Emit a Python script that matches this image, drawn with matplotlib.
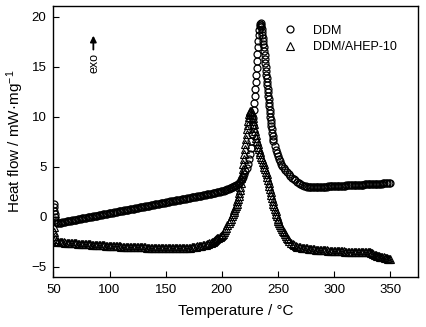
import matplotlib
matplotlib.use("Agg")
import matplotlib.pyplot as plt

plt.rcParams['font.family'] = ['Liberation Sans', 'DejaVu Sans']
plt.rcParams['mathtext.default'] = 'regular'

# DDM (circles): temperature / heat flow
ddm_t = [50.5, 50.7, 50.9, 51.1, 51.3, 51.6, 52.0,
         53, 54.25, 55.5, 56.75, 58, 59.25, 60.5, 61.75, 63, 64.25, 65.5,
         66.75, 68, 69.25, 70.5, 71.75, 73, 74.25, 75.5, 76.75, 78, 79.25,
         80.5, 81.75, 83, 84.25, 85.5, 86.75, 88, 89.25, 90.5, 91.75, 93,
         94.25, 95.5, 96.75, 98, 99.25, 100.5, 101.75, 103, 104.25, 105.5,
         106.75, 108, 109.25, 110.5, 111.75, 113, 114.25, 115.5, 116.75, 118,
         119.25, 120.5, 121.75, 123, 124.25, 125.5, 126.75, 128, 129.25, 130.5,
         131.75, 133, 134.25, 135.5, 136.75, 138, 139.25, 140.5, 141.75, 143,
         144.25, 145.5, 146.75, 148, 149.25, 150.5, 151.75, 153, 154.25, 155.5,
         156.75, 158, 159.25, 160.5, 161.75, 163, 164.25, 165.5, 166.75, 168,
         169.25, 170.5, 171.75, 173, 174.25, 175.5, 176.75, 178, 179.25, 180.5,
         181.75, 183, 184.25, 185.5, 186.75, 188, 189.25, 190.5, 191.75, 193,
         194.25, 195.5, 196.75, 198, 199.25, 200.5, 201.75, 203,
         204, 205, 206, 207, 208, 209, 210, 211, 212, 213, 214, 215, 216, 217,
         218, 219, 220, 221, 222, 223, 224, 224.8, 225.6, 226.4, 227, 227.6,
         228.1, 228.5, 228.9, 229.3, 229.7, 230.1, 230.5, 230.9, 231.3, 231.7,
         232.1, 232.5, 232.9, 233.3, 233.7, 234.1, 234.5, 234.9, 235.3, 235.6,
         235.9, 236.2, 236.5, 236.8, 237.1, 237.4, 237.7, 238.0, 238.3, 238.6,
         238.9, 239.2, 239.5, 239.8, 240.1, 240.4, 240.7, 241.0, 241.3, 241.6,
         241.9, 242.2, 242.5, 242.8, 243.1, 243.4, 243.7, 244.0, 244.4, 244.8,
         245.2, 245.6, 246, 247, 248, 249, 250, 251, 252, 253, 254, 255, 256.5,
         258, 259.5, 261, 262.5, 264, 265.5, 267, 268.5, 270, 271.5, 273,
         274.5, 276, 277.25, 278.5, 279.75, 281, 282.25, 283.5, 284.75, 286,
         287.25, 288.5, 289.75, 291, 292.25, 293.5, 294.75, 296, 297.25, 298.5,
         299.75, 301, 302.25, 303.5, 304.75, 306, 307.25, 308.5, 309.75, 311,
         312.25, 313.5, 314.75, 316, 317.25, 318.5, 319.75, 321, 322.25, 323.5,
         324.75, 326, 327.25, 328.5, 329.75, 331, 332.25, 333.5, 334.75, 336,
         337.25, 338.5, 339.75, 341, 342.25, 343.5, 344.75, 346, 347.25, 348.5,
         349.75]
ddm_hf = [1.3, 0.95, 0.6, 0.25, -0.05, -0.3, -0.55,
          -0.67, -0.64, -0.62, -0.59, -0.56, -0.54, -0.51, -0.48, -0.45, -0.43,
          -0.40, -0.37, -0.35, -0.32, -0.29, -0.27, -0.24, -0.21, -0.18, -0.16,
          -0.13, -0.10, -0.08, -0.05, -0.02, 0.00, 0.03, 0.06, 0.09, 0.11,
          0.14, 0.17, 0.19, 0.22, 0.25, 0.27, 0.30, 0.33, 0.36, 0.38, 0.41,
          0.44, 0.46, 0.49, 0.52, 0.54, 0.57, 0.60, 0.63, 0.65, 0.68, 0.71,
          0.73, 0.76, 0.79, 0.81, 0.84, 0.87, 0.90, 0.92, 0.95, 0.98, 1.00,
          1.03, 1.06, 1.08, 1.11, 1.14, 1.17, 1.19, 1.22, 1.25, 1.27, 1.30,
          1.33, 1.35, 1.38, 1.41, 1.44, 1.46, 1.49, 1.52, 1.54, 1.57, 1.60,
          1.62, 1.65, 1.68, 1.71, 1.73, 1.76, 1.79, 1.81, 1.84, 1.87, 1.89,
          1.92, 1.95, 1.98, 2.00, 2.03, 2.06, 2.08, 2.11, 2.14, 2.16, 2.19,
          2.22, 2.25, 2.28, 2.31, 2.34, 2.37, 2.40, 2.43, 2.46, 2.50, 2.53,
          2.57, 2.61, 2.65,
          2.69, 2.73, 2.77, 2.82, 2.87, 2.92, 2.98, 3.04, 3.11, 3.18, 3.27,
          3.38, 3.5, 3.64, 3.8, 4.0, 4.25, 4.55, 4.9, 5.3, 5.8, 6.3, 6.9, 7.6,
          8.3, 9.1, 9.9, 10.7, 11.4, 12.1, 12.8, 13.5, 14.2, 14.9, 15.6, 16.3,
          17.0, 17.6, 18.2, 18.7, 19.1, 19.3, 19.35, 19.2, 19.0, 18.75, 18.5,
          18.2, 17.9, 17.6, 17.3, 16.95, 16.6, 16.2, 15.8, 15.4, 15.0, 14.6,
          14.2, 13.85, 13.5, 13.15, 12.8, 12.45, 12.1, 11.75, 11.4, 11.05,
          10.7, 10.35, 10.0, 9.7, 9.4, 9.1, 8.75, 8.4, 8.1, 7.8, 7.55, 7.1,
          6.7, 6.35, 6.05, 5.8, 5.55, 5.3, 5.1, 4.9, 4.65, 4.42, 4.22, 4.05,
          3.9, 3.76, 3.62, 3.48, 3.36, 3.25, 3.15, 3.07, 3.02, 2.99, 2.98,
          2.97, 2.97, 2.97, 2.98, 2.98, 2.99, 2.99, 3.0, 3.0, 3.0, 3.0, 3.01,
          3.01, 3.02, 3.03, 3.04, 3.04, 3.05, 3.06, 3.07, 3.07, 3.08, 3.09,
          3.1, 3.1, 3.11, 3.12, 3.13, 3.13, 3.14, 3.15, 3.16, 3.16, 3.17, 3.18,
          3.19, 3.19, 3.2, 3.21, 3.22, 3.23, 3.24, 3.24, 3.25, 3.26, 3.27,
          3.28, 3.29, 3.29, 3.3, 3.31, 3.31, 3.32, 3.32, 3.33, 3.33, 3.33,
          3.33]

# DDM/AHEP-10 (triangles)
ahep_t = [50.5, 50.8, 51.1, 51.5, 52.0,
          53, 54.25, 55.5, 56.75, 58, 59.25, 60.5, 61.75, 63, 64.25, 65.5,
          66.75, 68, 69.25, 70.5, 71.75, 73, 74.25, 75.5, 76.75, 78, 79.25,
          80.5, 81.75, 83, 84.25, 85.5, 86.75, 88, 89.25, 90.5, 91.75, 93,
          94.25, 95.5, 96.75, 98, 99.25, 100.5, 101.75, 103, 104.25, 105.5,
          106.75, 108, 109.25, 110.5, 111.75, 113, 114.25, 115.5, 116.75, 118,
          119.25, 120.5, 121.75, 123, 124.25, 125.5, 126.75, 128, 129.25,
          130.5, 131.75, 133, 134.25, 135.5, 136.75, 138, 139.25, 140.5,
          141.75, 143, 144.25, 145.5, 146.75, 148, 149.25, 150.5, 151.75, 153,
          154.25, 155.5, 156.75, 158, 159.25, 160.5, 161.75, 163, 164.25,
          165.5, 166.75, 168, 169.25, 170.5, 171.75, 173, 174.25, 175.5,
          176.75, 178, 179.25, 180.5, 181.75, 183, 184.25, 185.5, 186.75, 188,
          189, 190, 191, 192, 193, 194, 195, 196, 197, 198, 199, 200, 201,
          202, 203, 204, 205, 206, 207, 208, 209, 209.8, 210.5, 211.2, 211.9,
          212.5, 213.1, 213.7, 214.3, 214.9, 215.5, 216, 216.5, 217, 217.5,
          218, 218.5, 219, 219.5, 220, 220.5, 221, 221.5, 222, 222.5, 223,
          223.5, 224, 224.5, 225, 225.5, 226, 226.5, 227, 227.5, 228, 228.5,
          229, 229.5, 230, 230.6, 231.2, 231.8, 232.4, 233, 233.7, 234.4,
          235.1, 235.8, 236.5, 237.2, 237.9, 238.6, 239.3, 240, 240.6, 241.2,
          241.8, 242.4, 243, 243.6, 244.2, 244.8, 245.4, 246, 246.6, 247.2,
          247.8, 248.4, 249, 249.7, 250.4, 251.1, 251.8, 252.6, 253.4, 254.2,
          255, 256, 257, 258, 259, 260, 261.5, 263, 264.5,
          266, 267.25, 268.5, 269.75, 271, 272.25, 273.5, 274.75, 276, 277.25,
          278.5, 279.75, 281, 282.25, 283.5, 284.75, 286, 287.25, 288.5,
          289.75, 291, 292.25, 293.5, 294.75, 296, 297.25, 298.5, 299.75, 301,
          302.25, 303.5, 304.75, 306, 307.25, 308.5, 309.75, 311, 312.25,
          313.5, 314.75, 316, 317.25, 318.5, 319.75, 321, 322.25, 323.5,
          324.75, 326, 327.25, 328.5, 329.75, 331, 332, 333, 334, 335, 336,
          337, 338, 339, 340, 341, 342, 343, 344, 345, 346, 347, 348, 349, 350]
ahep_hf = [-1.0, -1.5, -1.9, -2.2, -2.4,
           -2.50, -2.51, -2.53, -2.54, -2.56, -2.57, -2.59, -2.60, -2.61,
           -2.63, -2.64, -2.65, -2.66, -2.67, -2.68, -2.69, -2.70, -2.71,
           -2.72, -2.73, -2.74, -2.75, -2.76, -2.77, -2.78, -2.79, -2.80,
           -2.81, -2.82, -2.83, -2.84, -2.85, -2.86, -2.87, -2.88, -2.89,
           -2.90, -2.91, -2.92, -2.93, -2.94, -2.95, -2.96, -2.96, -2.97,
           -2.98, -2.99, -2.99, -3.00, -3.01, -3.02, -3.02, -3.03, -3.03,
           -3.04, -3.04, -3.05, -3.05, -3.06, -3.06, -3.07, -3.07, -3.08,
           -3.08, -3.09, -3.09, -3.10, -3.10, -3.11, -3.11, -3.12, -3.12,
           -3.13, -3.13, -3.14, -3.14, -3.15, -3.15, -3.16, -3.16, -3.16,
           -3.17, -3.17, -3.17, -3.17, -3.17, -3.17, -3.17, -3.17, -3.17,
           -3.17, -3.16, -3.15, -3.14, -3.12, -3.10, -3.08, -3.06, -3.03,
           -3.01, -2.98, -2.95, -2.92, -2.89, -2.86, -2.83, -2.80, -2.76,
           -2.72, -2.67, -2.62, -2.56, -2.50, -2.43, -2.35, -2.27, -2.18,
           -2.09, -2.00, -1.9, -1.8, -1.7,
           -1.5, -1.3, -1.1, -0.88, -0.65, -0.42, -0.2, 0.02, 0.22, 0.42,
           0.62, 0.84, 1.05, 1.28, 1.52, 1.78, 2.05, 2.35, 2.65, 3.0, 3.4,
           3.85, 4.3, 4.8, 5.3, 5.8, 6.3, 6.8, 7.3, 7.8, 8.3, 8.75, 9.2, 9.6,
           9.95, 10.25, 10.5, 10.6, 10.6, 10.45, 10.2, 9.9, 9.6, 9.25, 8.9,
           8.55, 8.2, 7.85, 7.55, 7.25, 7.0, 6.75, 6.5, 6.25, 6.0, 5.75, 5.5,
           5.25, 5.0, 4.75, 4.5, 4.3, 4.0, 3.7, 3.4, 3.1, 2.8, 2.5, 2.2, 1.9,
           1.6, 1.3, 1.05, 0.8, 0.55, 0.3, 0.05, -0.2, -0.45, -0.65, -0.85,
           -1.05, -1.25, -1.4, -1.55, -1.75, -1.95, -2.12, -2.28, -2.42, -2.6,
           -2.74, -2.85,
           -2.94, -2.99, -3.03, -3.07, -3.10, -3.12, -3.14, -3.16, -3.18,
           -3.20, -3.22, -3.24, -3.26, -3.27, -3.29, -3.30, -3.32, -3.33,
           -3.34, -3.35, -3.36, -3.37, -3.38, -3.39, -3.40, -3.41, -3.42,
           -3.43, -3.44, -3.45, -3.46, -3.46, -3.47, -3.48, -3.48, -3.49,
           -3.49, -3.50, -3.50, -3.50, -3.50, -3.50, -3.50, -3.50, -3.50,
           -3.50, -3.50, -3.51, -3.51, -3.52, -3.53, -3.54, -3.56, -3.58,
           -3.63, -3.68, -3.75, -3.82, -3.88, -3.93, -3.96, -3.98, -4.0,
           -4.02, -4.04, -4.06, -4.09, -4.12, -4.16, -4.2, -4.24, -4.27]

fig = plt.figure(figsize=(4.27, 3.27), dpi=100)
ax = fig.add_axes([0.125, 0.154, 0.854, 0.828])

ax.plot(ddm_t, ddm_hf, linestyle='none', marker='o', markersize=5.0,
        markerfacecolor='none', markeredgecolor='black', markeredgewidth=0.9,
        label='DDM')
ax.plot(ahep_t, ahep_hf, linestyle='none', marker='^', markersize=5.6,
        markerfacecolor='none', markeredgecolor='black', markeredgewidth=0.8,
        label='DDM/AHEP-10')

ax.set_xlim(50, 374.7)
ax.set_ylim(-6, 21.07)
ax.set_xticks([50, 100, 150, 200, 250, 300, 350])
ax.set_yticks([-5, 0, 5, 10, 15, 20])
ax.tick_params(direction='in', length=4, width=0.8, labelsize=9.5, pad=5)
for s in ax.spines.values():
    s.set_linewidth(1.0)

ax.set_xlabel('Temperature / °C', fontsize=11, labelpad=6)
ax.set_ylabel('Heat flow / mW·mg$^{-1}$', fontsize=11, labelpad=4)

# exo arrow
ax.annotate('', xy=(85.6, 18.1), xytext=(85.6, 16.7),
            arrowprops=dict(arrowstyle='-|>', color='black', lw=1.3,
                            mutation_scale=9, shrinkA=0, shrinkB=0))
ax.text(86.4, 15.4, 'exo', rotation=90, ha='center', va='center', fontsize=9)

ax.legend(loc='upper left', bbox_to_anchor=(0.632, 0.93), frameon=False,
          fontsize=9, handlelength=1.0, handletextpad=1.3, borderpad=0,
          labelspacing=0.35, borderaxespad=0)

fig.savefig('out.png', dpi=100)
